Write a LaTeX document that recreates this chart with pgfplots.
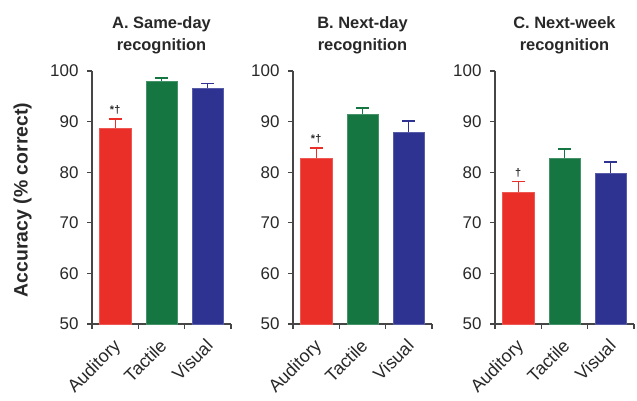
\documentclass[border=0pt]{standalone}
\usepackage{fontspec}
\setmainfont{Liberation Sans}
\usepackage{pgfplots}
\pgfplotsset{compat=1.18}
\definecolor{cred}{RGB}{234,46,40}
\definecolor{cgreen}{RGB}{22,118,66}
\definecolor{cblue}{RGB}{46,50,145}
\definecolor{axgray}{RGB}{70,70,70}
\definecolor{txt}{RGB}{40,40,40}
\pgfplotsset{
  panel/.style={
    scale only axis, width=139bp, height=253bp,
    xmin=-0.5, xmax=2.5, ymin=50, ymax=100,
    axis x line=bottom, axis y line=left,
    axis line style={-, axgray, line width=1.2pt},
    ytick={50,60,70,80,90,100},
    xtick={0,1,2}, xticklabels={Auditory,Tactile,Visual},
    minor xtick={-0.5,0.5,1.5,2.5},
    major tick length=0pt,
    every tick/.style={axgray, line width=1.2pt},
    ytick style={/pgfplots/major tick length=5bp},
    minor tick length=5bp,
    tick align=outside,
    /pgf/number format/assume math mode=true,
    yticklabel style={font=\fontsize{17}{19}\selectfont, text=txt, xshift=-10bp},
    xticklabel style={font=\fontsize{18}{20}\selectfont, text=txt, anchor=north east, xshift=-3bp, yshift=-9bp, rotate=45},
    title style={font=\bfseries\fontsize{16.5}{22}\selectfont, align=center, text=txt, yshift=8bp},
    ybar, bar width=0.68, bar shift=0pt,
    clip=false,
    error bars/y dir=plus, error bars/y explicit,
  },
  redbar/.style={fill=cred, draw=cred!80!white, error bars/error bar style={cred, line width=1.3pt}, error bars/error mark options={cred, rotate=90, mark size=6.5bp, line width=1.2pt}},
  greenbar/.style={fill=cgreen, draw=cgreen!80!white, error bars/error bar style={cgreen, line width=1.3pt}, error bars/error mark options={cgreen, rotate=90, mark size=6.5bp, line width=1.2pt}},
  bluebar/.style={fill=cblue, draw=cblue!80!white, error bars/error bar style={cblue, line width=1.3pt}, error bars/error mark options={cblue, rotate=90, mark size=6.5bp, line width=1.2pt}},
}
\begin{document}
\begin{tikzpicture}
\useasboundingbox (0bp,0bp) rectangle (637bp,401bp);
\node[rotate=90, font=\bfseries\fontsize{19.5}{21}\selectfont, text=txt] at (22.5bp,201bp) {Accuracy (\% correct)};
% Panel A
\begin{axis}[panel, at={(92bp,77bp)}, anchor=south west, title={A. Same-day\\recognition}]
\addplot[redbar] coordinates {(0,88.7) +- (0,1.8)};
\addplot[greenbar] coordinates {(1,98.0) +- (0,0.6)};
\addplot[bluebar] coordinates {(2,96.6) +- (0,1.0)};
\node[font=\bfseries\fontsize{11}{12}\selectfont, text=txt, anchor=south] at (axis cs:0,90.8) {*†};
\end{axis}
% Panel B
\begin{axis}[panel, at={(293bp,77bp)}, anchor=south west, title={B. Next-day\\recognition}]
\addplot[redbar] coordinates {(0,82.8) +- (0,2.0)};
\addplot[greenbar] coordinates {(1,91.5) +- (0,1.2)};
\addplot[bluebar] coordinates {(2,88.0) +- (0,2.1)};
\node[font=\bfseries\fontsize{11}{12}\selectfont, text=txt, anchor=south] at (axis cs:0,85.1) {*†};
\end{axis}
% Panel C
\begin{axis}[panel, at={(495bp,77bp)}, anchor=south west, title={C. Next-week\\recognition}]
\addplot[redbar] coordinates {(0,76.1) +- (0,2.0)};
\addplot[greenbar] coordinates {(1,82.8) +- (0,1.8)};
\addplot[bluebar] coordinates {(2,79.8) +- (0,2.2)};
\node[font=\bfseries\fontsize{11}{12}\selectfont, text=txt, anchor=south] at (axis cs:0,78.4) {†};
\end{axis}
\end{tikzpicture}
\end{document}
